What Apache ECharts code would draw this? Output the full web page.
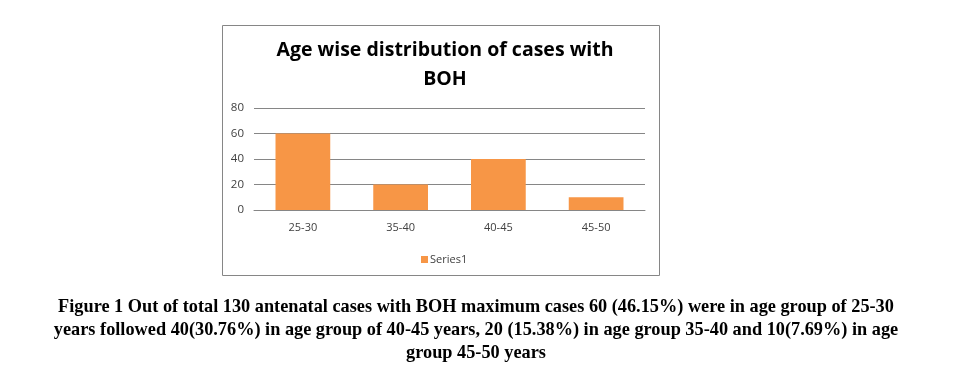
<!DOCTYPE html>
<html>
<head>
<meta charset="utf-8">
<script src="https://cdn.jsdelivr.net/npm/echarts@6/dist/echarts.min.js"></script>
<style>
  html, body { margin: 0; padding: 0; background: #fff; }
  #main { width: 953px; height: 376px; }
</style>
</head>
<body>
<div id="main"></div>
<script>
const ageGroups = ['25-30', '35-40', '40-45', '45-50']
const cases = [60, 20, 40, 10]
const yTicks = [0, 20, 40, 60, 80]
const captionLines = [
  'Figure 1 Out of total 130 antenatal cases with BOH maximum cases 60 (46.15%) were in age group of 25-30',
  'years followed 40(30.76%) in age group of 40-45 years, 20 (15.38%) in age group 35-40 and 10(7.69%) in age',
  'group 45-50 years'
]

var myChart = echarts.init(document.getElementById('main'))
var capFont = 'bold 18.3px "Liberation Serif", "Times New Roman", serif'
var option = {
  animation: false,
  title: {
    text: 'Age wise distribution of cases with\nBOH',
    left: 440,
    top: 31,
    textAlign: 'center',
    textStyle: {
      fontFamily: 'Open Sans',
      fontWeight: 'bold',
      fontSize: 19.5,
      lineHeight: 29,
      color: '#000'
    }
  },
  legend: {
    data: ['Series1'],
    left: 416,
    top: 249,
    itemWidth: 7,
    itemHeight: 7,
    itemGap: 4,
    icon: 'rect',
    textStyle: { fontFamily: 'Open Sans', fontSize: 11, color: '#404040', padding: [0, 0, 0, -3] }
  },
  grid: { left: 254, right: 953 - 645, top: 108, bottom: 376 - 210 },
  xAxis: {
    type: 'category',
    data: ageGroups,
    axisLine: { lineStyle: { color: '#868686' } },
    axisTick: { show: false },
    axisLabel: { fontFamily: 'Open Sans', fontSize: 11, color: '#404040', margin: 12 }
  },
  yAxis: {
    type: 'value',
    min: yTicks[0],
    max: yTicks[yTicks.length - 1],
    interval: 20,
    axisLine: { show: false },
    axisTick: { show: false },
    axisLabel: { fontFamily: 'Open Sans', fontSize: 11.5, color: '#404040', margin: 10 },
    splitLine: { lineStyle: { color: '#868686' } }
  },
  series: [{
    name: 'Series1',
    type: 'bar',
    data: cases,
    barWidth: '56%',
    itemStyle: { color: '#f79646' }
  }],
  graphic: [
    {
      type: 'rect',
      shape: { x: 222.5, y: 25.5, width: 437, height: 250 },
      style: { fill: null, stroke: '#868686', lineWidth: 1 },
      silent: true
    }
  ].concat(captionLines.map(function (line, i) {
    return {
      type: 'text',
      x: 476,
      y: 307 + i * 23,
      style: {
        text: line,
        font: capFont,
        fill: '#000',
        textAlign: 'center',
        textVerticalAlign: 'middle'
      }
    }
  }))
}
myChart.setOption(option)
</script>
</body>
</html>
